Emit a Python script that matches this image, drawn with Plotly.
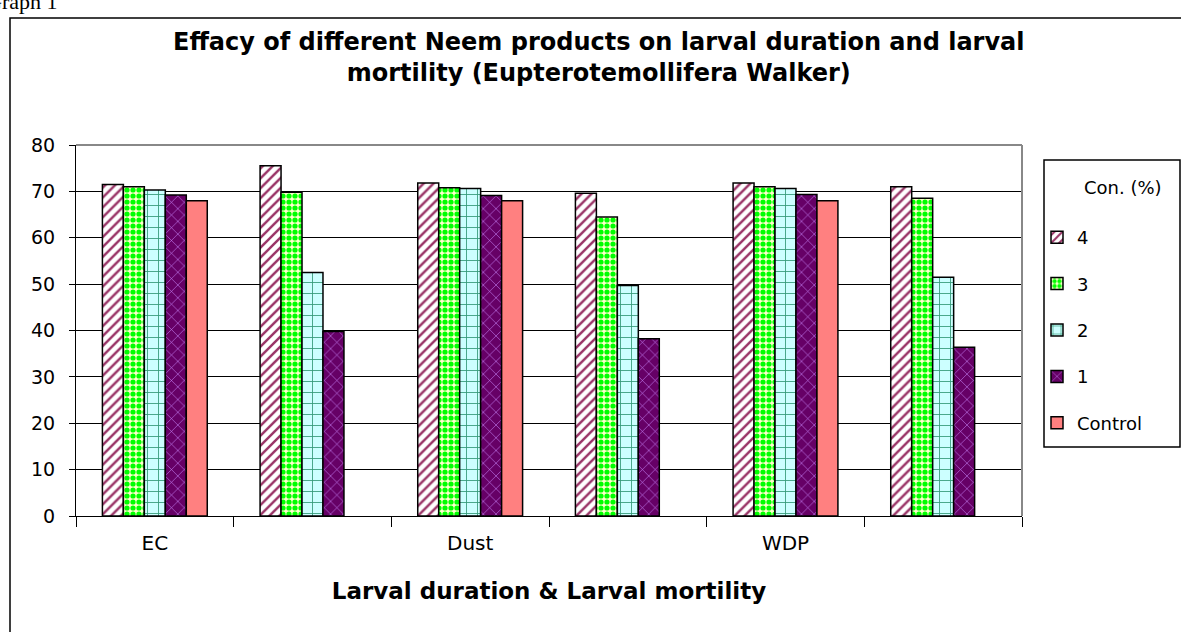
import plotly.graph_objects as go

categories = ["EC", " ", "Dust", "  ", "WDP", "   "]
series_names = ["4", "3", "2", "1", "Control"]
vals_4 = [71.5, 75.5, 71.8, 69.6, 71.8, 71.0]
vals_3 = [71.0, 69.8, 70.8, 64.5, 71.0, 68.5]
vals_2 = [70.3, 52.5, 70.6, 49.7, 70.6, 51.5]
vals_1 = [69.2, 39.8, 69.1, 38.2, 69.3, 36.4]
vals_control = [68.0, None, 68.0, None, 68.0, None]

title_text = ("Effacy of different Neem products on larval duration and larval<br>"
              "mortility (Eupterotemollifera Walker)")
x_title = "Larval duration & Larval mortility"
legend_title = "Con. (%)"
page_label = "Graph 1"

FONT = "DejaVu Sans, Liberation Sans, Arial, sans-serif"

styles = [
    dict(color="white", pattern=dict(shape="/", fgcolor="#993366", bgcolor="white", size=7, solidity=0.35)),
    dict(color="#FFFFCC", pattern=dict(shape=".", fgcolor="#00FF00", bgcolor="#FFFFCC", size=6, solidity=0.6)),
    dict(color="#CCFFFF", pattern=dict(shape="+", fgcolor="#339977", bgcolor="#CCFFFF", size=11, solidity=0.15)),
    dict(color="#660066", pattern=dict(shape="x", fgcolor="#CC88FF", bgcolor="#660066", size=9, solidity=0.12)),
    dict(color="#FF8080"),
]

all_vals = [vals_4, vals_3, vals_2, vals_1, vals_control]

fig = go.Figure()
for name, vals, st in zip(series_names, all_vals, styles):
    marker = dict(color=st["color"], line=dict(color="black", width=1.5))
    if "pattern" in st:
        marker["pattern"] = dict(st["pattern"], fillmode="replace")
    fig.add_trace(go.Bar(x=categories, y=vals, name=name, marker=marker,
                         legendgroup=name))

L, R, T, B = 76, 1022, 145, 516
W, H = 1181, 632

def px(x):
    return (x - L) / (R - L)

def py(y):
    return (B - y) / (B - T)

fig.update_layout(
    width=W, height=H,
    margin=dict(l=L, r=W - R, t=T, b=H - B, autoexpand=False),
    paper_bgcolor="white", plot_bgcolor="white",
    barmode="group", bargap=0.335, bargroupgap=0.0,
    font=dict(family=FONT, color="black", size=18),
    showlegend=True,
    legend=dict(
        x=px(1037), y=py(219), xanchor="left", yanchor="top",
        borderwidth=0, bgcolor="rgba(0,0,0,0)",
        font=dict(family=FONT, size=18),
        tracegroupgap=20, traceorder="grouped",
        itemwidth=30,
    ),
    xaxis=dict(
        type="category", tickson="boundaries", ticks="outside", ticklen=10,
        tickcolor="black", showline=True, linecolor="black", linewidth=1,
        tickfont=dict(family=FONT, size=20), ticklabelstandoff=9,
        title=dict(text="<b>" + x_title + "</b>", font=dict(family=FONT, size=23), standoff=28),
        showgrid=False,
    ),
    yaxis=dict(
        range=[0, 80], dtick=10, ticks="outside", ticklen=6, tickcolor="black",
        showline=True, linecolor="black", linewidth=1,
        showgrid=True, gridcolor="black", gridwidth=1,
        tickfont=dict(family=FONT, size=19), zeroline=False,
        ticklabelstandoff=10,
    ),
    shapes=[
        dict(type="rect", xref="paper", yref="paper",
             x0=px(10), x1=px(1200), y0=py(700), y1=py(18),
             line=dict(color="black", width=1.5), fillcolor="rgba(0,0,0,0)", layer="below"),
        dict(type="rect", xref="paper", yref="paper",
             x0=px(1044), x1=px(1180), y0=py(447), y1=py(160),
             line=dict(color="black", width=1.5), fillcolor="rgba(0,0,0,0)", layer="above"),
        dict(type="line", xref="paper", yref="paper",
             x0=1, x1=1, y0=0, y1=1, line=dict(color="#888888", width=2)),
        dict(type="line", xref="paper", yref="paper",
             x0=0, x1=1, y0=1, y1=1, line=dict(color="#888888", width=2)),
    ],
    annotations=[
        dict(text="<b>" + title_text + "</b>", xref="paper", yref="paper",
             x=px(598), y=py(26), xanchor="center", yanchor="top",
             showarrow=False, font=dict(family=FONT, size=24), align="center"),
        dict(text=legend_title, xref="paper", yref="paper",
             x=px(1123), y=py(187), xanchor="center", yanchor="middle",
             showarrow=False, font=dict(family=FONT, size=18)),
        dict(text=page_label, xref="paper", yref="paper",
             x=px(-16), y=py(16), xanchor="left", yanchor="bottom",
             showarrow=False, font=dict(family="Liberation Serif, Times New Roman, serif", size=22)),
    ],
)

fig.write_html("out.html", post_script="document.body.style.margin='0';",
               config={"displayModeBar": False})
